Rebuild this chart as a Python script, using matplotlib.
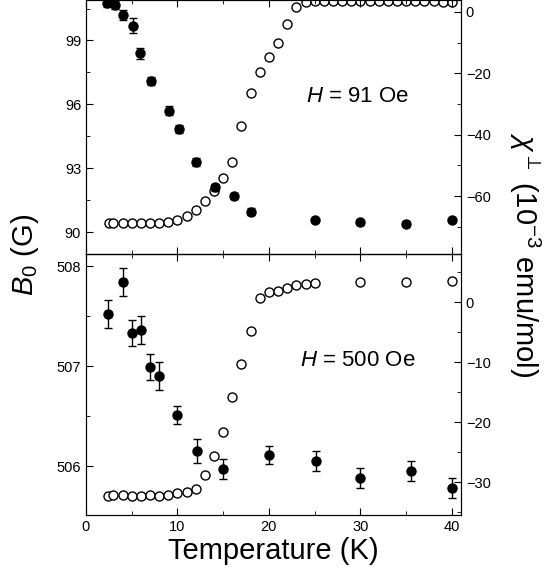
import matplotlib
matplotlib.use("Agg")
import matplotlib.pyplot as plt
from matplotlib.ticker import MultipleLocator

plt.rcParams['font.family'] = ['Liberation Sans', 'DejaVu Sans']
plt.rcParams['mathtext.fontset'] = 'custom'
plt.rcParams['mathtext.rm'] = 'Liberation Sans'
plt.rcParams['mathtext.it'] = 'Liberation Sans:italic'

T_b_top = [2.3, 3.2, 4.0, 5.1, 5.9, 7.1, 9.1, 10.2, 12.0, 14.1, 16.2, 18.0, 25.0, 30.0, 35.0, 40.0]
B_top = [100.76, 100.66, 100.2, 99.7, 98.4, 97.1, 95.7, 94.85, 93.3, 92.1, 91.7, 90.96, 90.55, 90.45, 90.4, 90.55]
B_top_err = [0.2, 0.2, 0.25, 0.35, 0.25, 0.2, 0.2, 0.2, 0.2, 0.15, 0.15, 0.15, 0.1, 0.1, 0.1, 0.1]
T_c_top = [2.5, 3, 4, 5, 6, 7, 8, 9, 10, 11, 12, 13, 14, 15, 16, 17, 18, 19, 20, 21, 22, 23, 24,
           25, 26, 27, 28, 29, 30, 31, 32, 33, 34, 35, 36, 37, 38, 39, 40]
chi_top = [-68.9, -68.7, -68.9, -68.9, -68.9, -68.9, -68.9, -68.6, -67.8, -66.5, -64.4, -61.5, -58.3,
           -54.0, -48.8, -37.1, -26.3, -19.5, -14.7, -10.1, -3.8, 1.6, 3.4,
           3.7, 3.7, 3.7, 3.7, 3.7, 3.7, 3.7, 3.7, 3.7, 3.7, 3.7, 3.7, 3.7, 3.6, 3.4, 3.4]

T_b_bot = [2.4, 4.0, 5.0, 6.0, 7.0, 8.0, 10.0, 12.1, 15.0, 20.0, 25.1, 30.0, 35.5, 40.0]
B_bot = [507.52, 507.84, 507.33, 507.36, 506.99, 506.9, 506.51, 506.15, 505.97, 506.11, 506.05, 505.88, 505.95, 505.78]
B_bot_err = [0.14, 0.14, 0.13, 0.14, 0.13, 0.14, 0.09, 0.12, 0.1, 0.09, 0.1, 0.1, 0.1, 0.1]
T_c_bot = [2.4, 3, 4, 5, 6, 7, 8, 9, 10, 11, 12, 13, 14, 15, 16, 17, 18, 19, 20, 21, 22, 23, 24, 25, 30, 35, 40]
chi_bot = [-32.3, -32.1, -32.1, -32.4, -32.3, -32.1, -32.3, -32.1, -31.9, -31.6, -31.2, -28.9, -25.7,
           -21.6, -15.9, -10.3, -4.9, 0.7, 1.6, 1.8, 2.4, 2.9, 3.0, 3.2, 3.3, 3.4, 3.5]

bg = "#b3b3b3"
fig = plt.figure(figsize=(5.47, 5.8), dpi=100, facecolor="white")
L, R = 86/547, 461/547
ax1 = fig.add_axes([L, 1-254/580, R-L, 254/580])
ax2 = fig.add_axes([L, 1-515/580, R-L, (515-254)/580])

def style(ax):
    ax.set_facecolor(bg)
    ax.tick_params(direction="in", which="both", labelsize=10.5, length=5)
    ax.tick_params(which="minor", length=3)
    ax.set_xlim(0, 41)
    ax.xaxis.set_major_locator(MultipleLocator(10))
    ax.xaxis.set_minor_locator(MultipleLocator(5))
    ax.tick_params(top=True, which="both")

for ax, Tb, B, Be, Tc, C, yl, cl, yt, ct, lbl, ly in [
    (ax1, T_b_top, B_top, B_top_err, T_c_top, chi_top, (88.97, 100.9), (-78.9, 3.9), 3, 20, "91 Oe", 96),
    (ax2, T_b_bot, B_bot, B_bot_err, T_c_bot, chi_bot, (505.51, 508.12), (-35.5, 8), 1, 10, "500 Oe", 360)]:
    style(ax)
    axr = ax.twinx()
    axr.tick_params(direction="in", which="both", labelsize=10.5, length=5)
    axr.tick_params(which="minor", length=3)
    ax.set_zorder(axr.get_zorder() + 1)
    ax.patch.set_visible(False)
    axr.set_facecolor(bg)
    axr.plot(Tc, C, "o", ms=6.5, mfc="white", mec="black", mew=1)
    axr.set_ylim(*cl)
    axr.yaxis.set_major_locator(MultipleLocator(ct))
    axr.yaxis.set_minor_locator(MultipleLocator(ct/2))
    ax.errorbar(Tb, B, yerr=Be, fmt="o", ms=6.5, color="black", capsize=3, elinewidth=1)
    ax.set_ylim(*yl)
    ax.yaxis.set_major_locator(MultipleLocator(yt))
    ax.yaxis.set_minor_locator(MultipleLocator(yt/2))
    fig.text(358/547, 1-ly/580, r"$\it{H}$ = " + lbl, fontsize=16, ha="center", va="center",
             bbox=dict(facecolor="white", edgecolor="none", pad=6))

ax1.tick_params(labelbottom=False)
ax2.set_xlabel("Temperature (K)", fontsize=21, labelpad=2)
fig.text(25/547, 1-255/580, r"$B_0$ (G)", fontsize=21, rotation=90, ha="center", va="center")
fig.text(525/547, 1-255/580, r"$\chi^{\perp}$ (10$^{-3}$ emu/mol)", fontsize=21, rotation=270,
         ha="center", va="center")
fig.savefig("out.png", dpi=100, facecolor="white")
